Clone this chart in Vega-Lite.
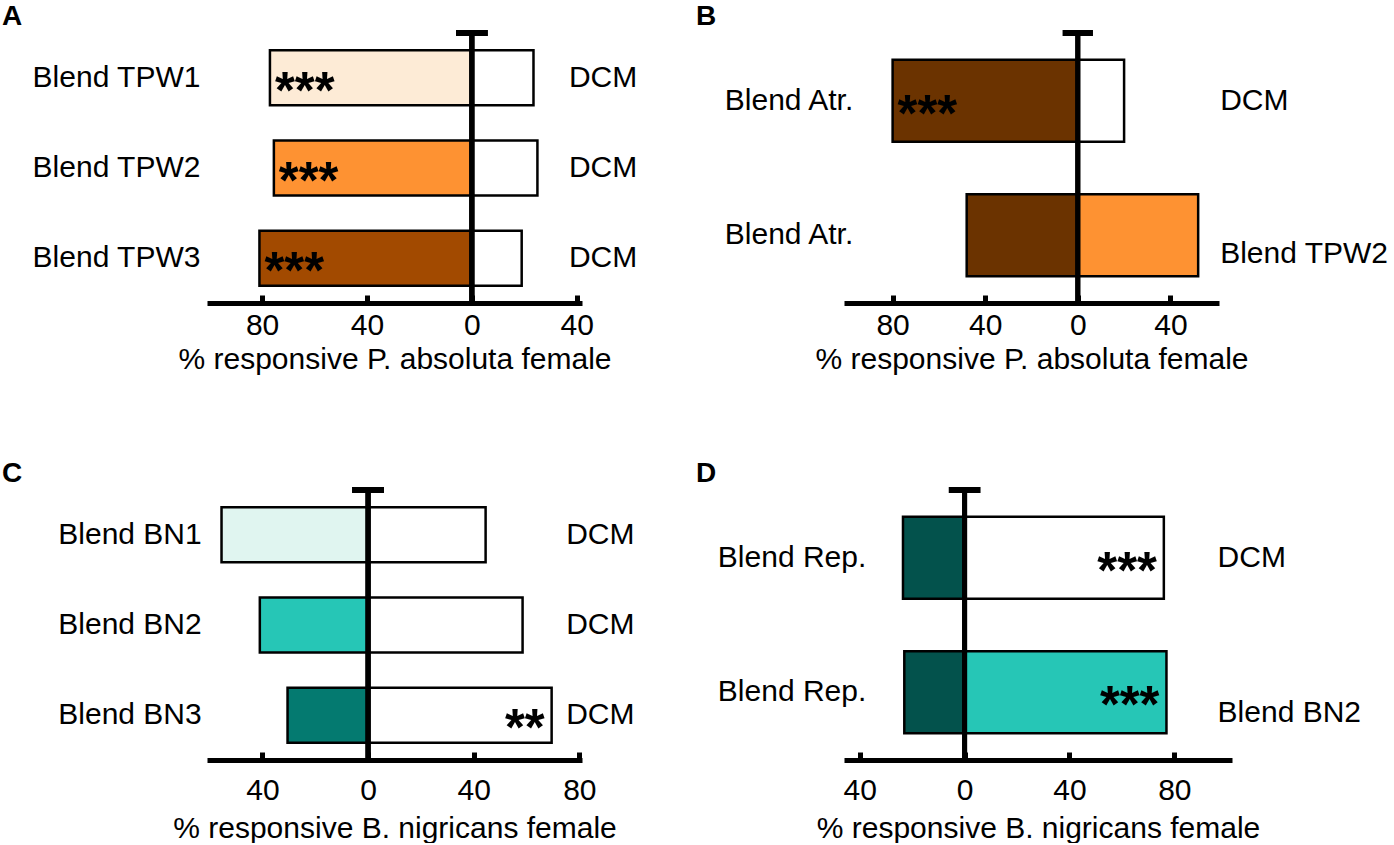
{
  "$schema": "https://vega.github.io/schema/vega-lite/v6.json",
  "padding": {"left": 2, "top": 3, "right": 0, "bottom": 0},
  "background": "white",
  "datasets": {
    "a": [
      {"row": 1, "left_label": "Blend TPW1", "right_label": "DCM", "left": -77, "right": 23.5, "sig_left": "***", "sig_right": ""},
      {"row": 2, "left_label": "Blend TPW2", "right_label": "DCM", "left": -75.5, "right": 25, "sig_left": "***", "sig_right": ""},
      {"row": 3, "left_label": "Blend TPW3", "right_label": "DCM", "left": -81, "right": 19, "sig_left": "***", "sig_right": ""}
    ],
    "b": [
      {"row": 1, "left_label": "Blend Atr.", "right_label": "DCM", "left": -80, "right": 20, "sig_left": "***", "sig_right": ""},
      {"row": 2, "left_label": "Blend Atr.", "right_label": "Blend TPW2", "left": -48, "right": 52, "sig_left": "", "sig_right": ""}
    ],
    "c": [
      {"row": 1, "left_label": "Blend BN1", "right_label": "DCM", "left": -55.5, "right": 44.5, "sig_left": "", "sig_right": ""},
      {"row": 2, "left_label": "Blend BN2", "right_label": "DCM", "left": -41, "right": 58.5, "sig_left": "", "sig_right": ""},
      {"row": 3, "left_label": "Blend BN3", "right_label": "DCM", "left": -30.5, "right": 69.5, "sig_left": "", "sig_right": "**"}
    ],
    "d": [
      {"row": 1, "left_label": "Blend Rep.", "right_label": "DCM", "left": -23.5, "right": 76, "sig_left": "", "sig_right": "***"},
      {"row": 2, "left_label": "Blend Rep.", "right_label": "Blend BN2", "left": -23, "right": 77, "sig_left": "", "sig_right": "***"}
    ]
  },
  "concat": [
    {
      "width": 375, "height": 270,
      "title": {"text": "A", "anchor": "start", "frame": "group", "dx": -205, "offset": -1, "fontSize": 28, "fontWeight": "bold", "color": "black", "font": "Liberation Sans"},
      "data": {"name": "a"},
      "layer": [
        {"mark": {"type": "bar", "stroke": "black", "strokeWidth": 2.5},
         "encoding": {
           "y": {"field": "row", "type": "ordinal", "axis": null, "scale": {"paddingInner": 0.39, "paddingOuter": 0.19}},
           "x": {"field": "left", "type": "quantitative", "title": "% responsive P. absoluta female", "scale": {"domain": [-101, 42], "nice": false, "zero": false}, "axis": {"values": [-80, -40, 0, 40], "labelExpr": "'' + abs(datum.value)", "labelPadding": 15, "titlePadding": 4}},
           "x2": {"datum": 0},
           "fill": {"field": "left_label", "type": "nominal", "legend": null, "scale": {"domain": ["Blend TPW1", "Blend TPW2", "Blend TPW3", "DCM"], "range": ["#FDEBD6", "#FE9232", "#A24A00", "#FFFFFF"]}}
         }},
        {"mark": {"type": "bar", "stroke": "black", "strokeWidth": 2.5},
         "encoding": {
           "y": {"field": "row", "type": "ordinal", "axis": null, "scale": {"paddingInner": 0.39, "paddingOuter": 0.19}},
           "x": {"field": "right", "type": "quantitative", "title": "% responsive P. absoluta female"},
           "x2": {"datum": 0},
           "fill": {"field": "right_label", "type": "nominal", "legend": null, "scale": {"domain": ["Blend TPW1", "Blend TPW2", "Blend TPW3", "DCM"], "range": ["#FDEBD6", "#FE9232", "#A24A00", "#FFFFFF"]}}
         }},
        {"mark": {"type": "rule", "color": "black", "strokeWidth": 5}, "encoding": {"x": {"datum": 0}}},
        {"mark": {"type": "rule", "color": "black", "strokeWidth": 6}, "encoding": {"x": {"datum": -6}, "x2": {"datum": 6}, "y": {"value": 0}}},
        {"mark": {"type": "text", "align": "right", "baseline": "middle", "fontSize": 30, "color": "black"},
         "encoding": {"x": {"datum": -103.5}, "y": {"field": "row", "type": "ordinal", "axis": null}, "text": {"field": "left_label"}}},
        {"mark": {"type": "text", "align": "left", "baseline": "middle", "fontSize": 30, "color": "black"},
         "encoding": {"x": {"datum": 37}, "y": {"field": "row", "type": "ordinal", "axis": null}, "text": {"field": "right_label"}}},
        {"mark": {"type": "text", "align": "left", "baseline": "alphabetic", "dx": 5, "dy": 30, "fontSize": 51, "fontWeight": "bold", "color": "black"},
         "encoding": {"x": {"field": "left", "type": "quantitative", "title": "% responsive P. absoluta female"}, "y": {"field": "row", "type": "ordinal", "axis": null}, "text": {"field": "sig_left"}}}
      ]
    },
    {
      "width": 375, "height": 270,
      "title": {"text": "B", "anchor": "start", "frame": "group", "dx": -148, "offset": -1, "fontSize": 28, "fontWeight": "bold", "color": "black", "font": "Liberation Sans"},
      "data": {"name": "b"},
      "layer": [
        {"mark": {"type": "bar", "stroke": "black", "strokeWidth": 2.5},
         "encoding": {
           "y": {"field": "row", "type": "ordinal", "axis": null, "scale": {"paddingInner": 0.39, "paddingOuter": 0.2}},
           "x": {"field": "left", "type": "quantitative", "title": "% responsive P. absoluta female", "scale": {"domain": [-101, 61], "nice": false, "zero": false}, "axis": {"values": [-80, -40, 0, 40], "labelExpr": "'' + abs(datum.value)", "labelPadding": 15, "titlePadding": 4}},
           "x2": {"datum": 0},
           "fill": {"field": "left_label", "type": "nominal", "legend": null, "scale": {"domain": ["Blend Atr.", "Blend TPW2", "DCM"], "range": ["#6B3300", "#FE9232", "#FFFFFF"]}}
         }},
        {"mark": {"type": "bar", "stroke": "black", "strokeWidth": 2.5},
         "encoding": {
           "y": {"field": "row", "type": "ordinal", "axis": null, "scale": {"paddingInner": 0.39, "paddingOuter": 0.2}},
           "x": {"field": "right", "type": "quantitative", "title": "% responsive P. absoluta female"},
           "x2": {"datum": 0},
           "fill": {"field": "right_label", "type": "nominal", "legend": null, "scale": {"domain": ["Blend Atr.", "Blend TPW2", "DCM"], "range": ["#6B3300", "#FE9232", "#FFFFFF"]}}
         }},
        {"mark": {"type": "rule", "color": "black", "strokeWidth": 5}, "encoding": {"x": {"datum": 0}}},
        {"mark": {"type": "rule", "color": "black", "strokeWidth": 6}, "encoding": {"x": {"datum": -6.5}, "x2": {"datum": 6.5}, "y": {"value": 0}}},
        {"mark": {"type": "text", "align": "right", "baseline": "middle", "fontSize": 30, "color": "black"},
         "encoding": {"x": {"datum": -97}, "y": {"field": "row", "type": "ordinal", "axis": null}, "text": {"field": "left_label"}}},
        {"transform": [{"filter": "datum.row == 1"}],
         "mark": {"type": "text", "align": "left", "baseline": "middle", "fontSize": 30, "color": "black"},
         "encoding": {"x": {"datum": 61.5}, "y": {"field": "row", "type": "ordinal", "axis": null}, "text": {"field": "right_label"}}},
        {"transform": [{"filter": "datum.row == 2"}],
         "mark": {"type": "text", "align": "left", "baseline": "middle", "fontSize": 30, "color": "black", "dy": 19},
         "encoding": {"x": {"datum": 61.5}, "y": {"field": "row", "type": "ordinal", "axis": null}, "text": {"field": "right_label"}}},
        {"mark": {"type": "text", "align": "left", "baseline": "alphabetic", "dx": 5, "dy": 30, "fontSize": 51, "fontWeight": "bold", "color": "black"},
         "encoding": {"x": {"field": "left", "type": "quantitative", "title": "% responsive P. absoluta female"}, "y": {"field": "row", "type": "ordinal", "axis": null}, "text": {"field": "sig_left"}}}
      ]
    },
    {
      "width": 375, "height": 270,
      "title": {"text": "C", "anchor": "start", "frame": "group", "dx": -205, "offset": -1, "fontSize": 28, "fontWeight": "bold", "color": "black", "font": "Liberation Sans"},
      "data": {"name": "c"},
      "layer": [
        {"mark": {"type": "bar", "stroke": "black", "strokeWidth": 2.5},
         "encoding": {
           "y": {"field": "row", "type": "ordinal", "axis": null, "scale": {"paddingInner": 0.39, "paddingOuter": 0.19}},
           "x": {"field": "left", "type": "quantitative", "title": "% responsive B. nigricans female", "scale": {"domain": [-61, 81], "nice": false, "zero": false}, "axis": {"values": [-40, 0, 40, 80], "labelExpr": "'' + abs(datum.value)", "labelPadding": 23, "titlePadding": 8}},
           "x2": {"datum": 0},
           "fill": {"field": "left_label", "type": "nominal", "legend": null, "scale": {"domain": ["Blend BN1", "Blend BN2", "Blend BN3", "DCM"], "range": ["#E0F5F0", "#26C6B6", "#047A70", "#FFFFFF"]}}
         }},
        {"mark": {"type": "bar", "stroke": "black", "strokeWidth": 2.5},
         "encoding": {
           "y": {"field": "row", "type": "ordinal", "axis": null, "scale": {"paddingInner": 0.39, "paddingOuter": 0.19}},
           "x": {"field": "right", "type": "quantitative", "title": "% responsive B. nigricans female"},
           "x2": {"datum": 0},
           "fill": {"field": "right_label", "type": "nominal", "legend": null, "scale": {"domain": ["Blend BN1", "Blend BN2", "Blend BN3", "DCM"], "range": ["#E0F5F0", "#26C6B6", "#047A70", "#FFFFFF"]}}
         }},
        {"mark": {"type": "rule", "color": "black", "strokeWidth": 5}, "encoding": {"x": {"datum": 0}}},
        {"mark": {"type": "rule", "color": "black", "strokeWidth": 6}, "encoding": {"x": {"datum": -6}, "x2": {"datum": 6}, "y": {"value": 0}}},
        {"mark": {"type": "text", "align": "right", "baseline": "middle", "fontSize": 30, "color": "black"},
         "encoding": {"x": {"datum": -63}, "y": {"field": "row", "type": "ordinal", "axis": null}, "text": {"field": "left_label"}}},
        {"mark": {"type": "text", "align": "left", "baseline": "middle", "fontSize": 30, "color": "black"},
         "encoding": {"x": {"datum": 75}, "y": {"field": "row", "type": "ordinal", "axis": null}, "text": {"field": "right_label"}}},
        {"mark": {"type": "text", "align": "right", "baseline": "alphabetic", "dx": -7, "dy": 30, "fontSize": 51, "fontWeight": "bold", "color": "black"},
         "encoding": {"x": {"field": "right", "type": "quantitative", "title": "% responsive B. nigricans female"}, "y": {"field": "row", "type": "ordinal", "axis": null}, "text": {"field": "sig_right"}}}
      ]
    },
    {
      "width": 388, "height": 270,
      "title": {"text": "D", "anchor": "start", "frame": "group", "dx": -148, "offset": -1, "fontSize": 28, "fontWeight": "bold", "color": "black", "font": "Liberation Sans"},
      "data": {"name": "d"},
      "layer": [
        {"mark": {"type": "bar", "stroke": "black", "strokeWidth": 2.5},
         "encoding": {
           "y": {"field": "row", "type": "ordinal", "axis": null, "scale": {"paddingInner": 0.39, "paddingOuter": 0.2}},
           "x": {"field": "left", "type": "quantitative", "title": "% responsive B. nigricans female", "scale": {"domain": [-46, 102], "nice": false, "zero": false}, "axis": {"values": [-40, 0, 40, 80], "labelExpr": "'' + abs(datum.value)", "labelPadding": 23, "titlePadding": 8}},
           "x2": {"datum": 0},
           "fill": {"field": "left_label", "type": "nominal", "legend": null, "scale": {"domain": ["Blend Rep.", "Blend BN2", "DCM"], "range": ["#03524C", "#26C6B6", "#FFFFFF"]}}
         }},
        {"mark": {"type": "bar", "stroke": "black", "strokeWidth": 2.5},
         "encoding": {
           "y": {"field": "row", "type": "ordinal", "axis": null, "scale": {"paddingInner": 0.39, "paddingOuter": 0.2}},
           "x": {"field": "right", "type": "quantitative", "title": "% responsive B. nigricans female"},
           "x2": {"datum": 0},
           "fill": {"field": "right_label", "type": "nominal", "legend": null, "scale": {"domain": ["Blend Rep.", "Blend BN2", "DCM"], "range": ["#03524C", "#26C6B6", "#FFFFFF"]}}
         }},
        {"mark": {"type": "rule", "color": "black", "strokeWidth": 5}, "encoding": {"x": {"datum": 0}}},
        {"mark": {"type": "rule", "color": "black", "strokeWidth": 6}, "encoding": {"x": {"datum": -6}, "x2": {"datum": 6}, "y": {"value": 0}}},
        {"mark": {"type": "text", "align": "right", "baseline": "middle", "fontSize": 30, "color": "black"},
         "encoding": {"x": {"datum": -37.5}, "y": {"field": "row", "type": "ordinal", "axis": null}, "text": {"field": "left_label"}}},
        {"transform": [{"filter": "datum.row == 1"}],
         "mark": {"type": "text", "align": "left", "baseline": "middle", "fontSize": 30, "color": "black"},
         "encoding": {"x": {"datum": 96.5}, "y": {"field": "row", "type": "ordinal", "axis": null}, "text": {"field": "right_label"}}},
        {"transform": [{"filter": "datum.row == 2"}],
         "mark": {"type": "text", "align": "left", "baseline": "middle", "fontSize": 30, "color": "black", "dy": 21},
         "encoding": {"x": {"datum": 96.5}, "y": {"field": "row", "type": "ordinal", "axis": null}, "text": {"field": "right_label"}}},
        {"mark": {"type": "text", "align": "right", "baseline": "alphabetic", "dx": -7, "dy": 30, "fontSize": 51, "fontWeight": "bold", "color": "black"},
         "encoding": {"x": {"field": "right", "type": "quantitative", "title": "% responsive B. nigricans female"}, "y": {"field": "row", "type": "ordinal", "axis": null}, "text": {"field": "sig_right"}}}
      ]
    }
  ],
  "columns": 2,
  "bounds": "flush",
  "spacing": {"row": 187, "column": 262},
  "resolve": {"scale": {"fill": "independent"}},
  "config": {
    "font": "Liberation Sans",
    "view": {"stroke": null},
    "text": {"font": "Liberation Sans"},
    "axis": {
      "grid": false,
      "domainColor": "black", "domainWidth": 5,
      "tickColor": "black", "tickWidth": 5, "tickSize": -8,
      "labelFont": "Liberation Sans", "labelFontSize": 30, "labelColor": "black", "labelPadding": 17,
      "titleFont": "Liberation Sans", "titleFontSize": 30, "titleFontWeight": "normal", "titleColor": "black", "titlePadding": 2
    }
  }
}
